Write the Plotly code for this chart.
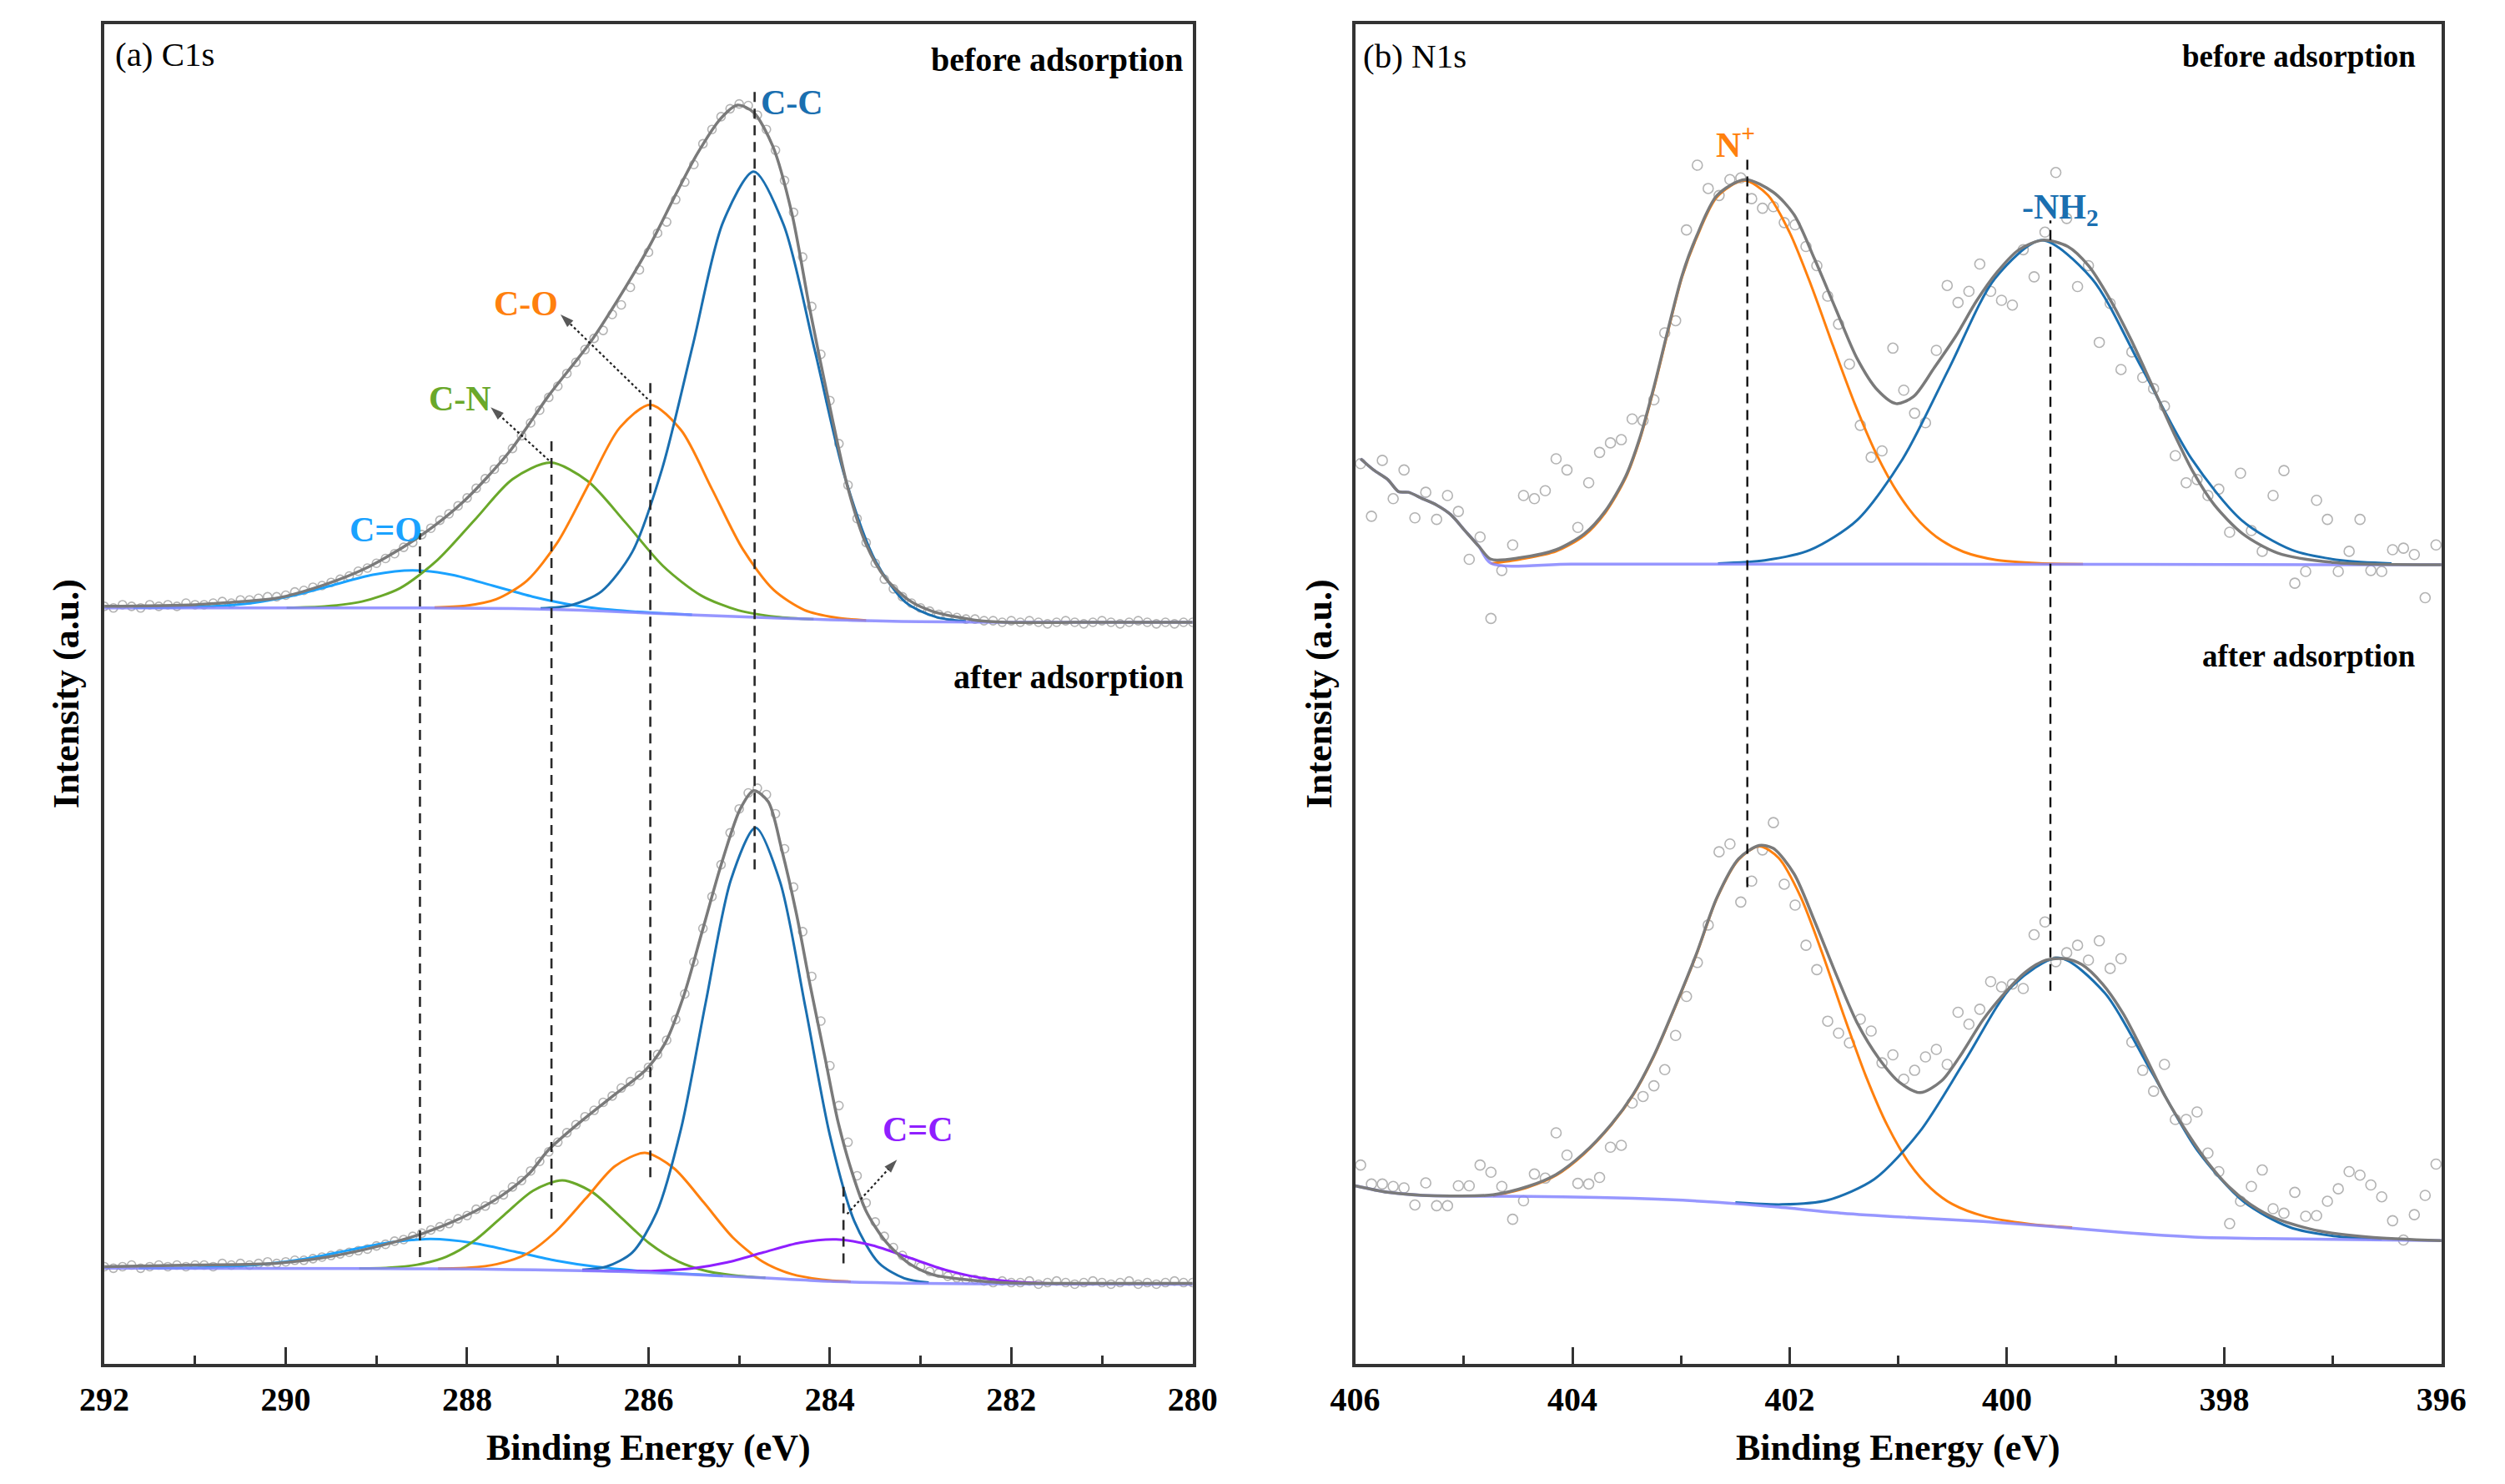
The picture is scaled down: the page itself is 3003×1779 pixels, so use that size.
import plotly.graph_objects as go

# ---------------- (a) C1s ----------------
# binding-energy grid of the measured C1s points (0.1 eV step, 292 -> 280 eV)
c1s_be = [round(292.0 - 0.1 * i, 1) for i in range(121)]

c1s_before_counts = [
    475, 474, 476, 475, 474, 476, 475, 476, 475, 477, 476,
    476, 477, 478, 477, 479, 479, 480, 481, 481, 482,
    484, 485, 487, 488, 490, 492, 494, 497, 499, 502,
    505, 508, 512, 515, 520, 524, 529, 533, 538, 543,
    549, 555, 561, 567, 574, 582, 590, 598, 606, 613,
    621, 628, 636, 643, 648, 658, 664, 675, 686, 697,
    709, 716, 730, 741, 752, 765, 774, 782, 787, 790,
    789, 783, 774, 761, 742, 722, 694, 663, 633, 604,
    577, 551, 530, 515, 502, 492, 486, 481, 477, 474,
    472, 470, 469, 468, 467, 467, 466, 466, 465, 466,
    465, 466, 465, 464, 465, 466, 465, 464, 465, 466,
    465, 464, 465, 466, 465, 464, 465, 464, 465, 465,
]
c1s_after_counts = [
    61, 60, 61, 62, 60, 61, 62, 61, 62, 61, 62,
    62, 61, 63, 62, 63, 62, 63, 64, 63, 64,
    65, 65, 66, 67, 68, 69, 70, 71, 72, 74,
    75, 77, 78, 80, 82, 84, 86, 88, 91, 93,
    97, 99, 103, 106, 111, 115, 121, 127, 133, 139,
    145, 150, 155, 159, 164, 168, 173, 177, 181, 186,
    194, 203, 216, 232, 252, 273, 293, 313, 333, 348,
    358, 361, 357, 345, 323, 299, 271, 243, 215, 187,
    162, 139, 118, 101, 89, 80, 73, 68, 64, 61,
    58, 57, 55, 54, 53, 53, 52, 51, 52, 51,
    51, 52, 50, 51, 52, 51, 50, 51, 52, 51,
    50, 51, 52, 50, 51, 50, 51, 52, 51, 51,
]

# fitted envelopes
c1s_before_env_be = [292.0, 291.0, 290.5, 290.11, 289.59, 289.08, 288.53, 288.04, 287.53, 287.10,
                     286.65, 286.23, 285.97, 285.72, 285.46, 285.20, 285.02, 284.84, 284.63, 284.42,
                     284.22, 284.01, 283.80, 283.60, 283.39, 283.13, 282.87, 282.36, 282.05, 281.0, 280.0]
c1s_before_env = [475, 476, 478, 480, 488.2, 499.9, 518.6, 540.7, 572.2, 607.2,
                  639.9, 677.3, 702.9, 731.0, 759.0, 781.1, 789.3, 784.6, 763.6, 721.6,
                  660.9, 602.6, 548.9, 513.9, 492.9, 478.9, 471.9, 466.0, 465.0, 465.0, 465.0]
c1s_after_env_be = [292.0, 291.0, 290.11, 289.59, 289.08, 288.53, 288.04, 287.63, 287.32, 287.10,
                    286.75, 286.39, 286.03, 285.82, 285.61, 285.41, 285.20, 284.99, 284.84, 284.68,
                    284.53, 284.37, 284.22, 284.06, 283.91, 283.75, 283.60, 283.39, 283.13, 282.87,
                    282.46, 282.05, 281.0, 280.0]
c1s_after_env = [61, 62, 63.1, 66.6, 72.4, 81.0, 92.2, 105.1, 119.1, 134.3,
                 151.8, 168.1, 184.4, 200.8, 231.1, 270.8, 312.8, 347.8, 359.5, 352.5,
                 322.2, 282.5, 238.1, 193.8, 151.8, 119.1, 95.8, 77.1, 63.1, 56.1,
                 52.6, 50.9, 50.5, 50.5]

# backgrounds
c1s_before_bg_be = [292.0, 288.5, 287.5, 287.0, 286.5, 286.0, 285.5, 285.0, 284.5, 284.0, 283.5, 283.0, 282.0, 280.0]
c1s_before_bg = [474, 474, 473.6, 473.0, 472.0, 470.8, 469.6, 468.5, 467.5, 466.6, 465.9, 465.4, 465.0, 465.0]
c1s_after_bg_be = [292.0, 289.0, 288.0, 287.5, 287.0, 286.5, 286.0, 285.5, 285.0, 284.5, 284.0, 283.5, 283.0, 282.0, 280.0]
c1s_after_bg = [60.0, 59.8, 59.5, 59.2, 58.8, 58.2, 57.3, 56.0, 54.7, 53.3, 51.8, 51.0, 50.5, 50.2, 50.0]

# fitted components, before adsorption
c1s_b_cdo_be = [291.68, 291.24, 290.80, 290.36, 289.92, 289.48, 289.04, 288.60, 288.16, 287.72, 287.28, 286.84, 286.40, 285.96, 285.52]
c1s_b_cdo = [474.1, 474.3, 475.0, 477.2, 481.7, 488.3, 494.8, 497.6, 494.7, 488.0, 481.1, 475.9, 472.8, 471.0, 469.7]
c1s_b_cn_be = [289.99, 289.57, 289.16, 288.74, 288.33, 287.91, 287.50, 287.08, 286.67, 286.25, 285.84, 285.42, 285.01, 284.59, 284.18]
c1s_b_cn = [474.2, 475.0, 478.0, 486.4, 503.9, 529.6, 554.7, 565.1, 553.5, 527.3, 500.3, 481.8, 472.5, 468.4, 466.9]
c1s_b_co_be = [288.36, 288.02, 287.68, 287.34, 287.00, 286.66, 286.32, 285.98, 285.64, 285.30, 284.96, 284.62, 284.28, 283.94, 283.60]
c1s_b_co = [474.3, 475.3, 479.4, 491.1, 515.4, 551.4, 586.8, 601.4, 585.4, 548.5, 510.8, 485.3, 472.7, 468.0, 466.2]
c1s_b_cc_be = [287.19, 286.85, 286.52, 286.18, 285.85, 285.51, 285.18, 284.84, 284.51, 284.17, 283.84, 283.50, 283.17, 282.83, 282.50]
c1s_b_cc = [473.8, 475.8, 484.3, 509.0, 561.2, 639.1, 715.6, 747.6, 714.2, 636.3, 557.1, 503.7, 477.8, 468.3, 465.6]

# fitted components, after adsorption
c1s_a_cdo_be = [291.62, 291.16, 290.70, 290.24, 289.78, 289.32, 288.86, 288.40, 287.94, 287.48, 287.02, 286.56, 286.10, 285.64, 285.18]
c1s_a_cdo = [60.0, 60.2, 60.8, 62.5, 65.9, 71.1, 76.2, 78.3, 75.9, 70.5, 64.8, 60.8, 58.3, 56.6, 55.2]
c1s_a_cn_be = [289.19, 288.87, 288.55, 288.23, 287.91, 287.59, 287.27, 286.95, 286.63, 286.31, 285.99, 285.67, 285.35, 285.03, 284.71]
c1s_a_cn = [59.9, 60.3, 62.2, 67.2, 77.7, 93.5, 108.7, 115.1, 108.1, 92.2, 75.6, 64.2, 58.1, 55.4, 54.0]
c1s_a_co_be = [288.32, 287.99, 287.67, 287.34, 287.02, 286.69, 286.37, 286.04, 285.72, 285.39, 285.07, 284.74, 284.42, 284.09, 283.77]
c1s_a_co = [59.8, 60.3, 62.6, 69.1, 83.2, 103.8, 124.0, 132.3, 122.7, 101.2, 79.3, 64.1, 56.3, 52.9, 51.6]
c1s_a_cc_be = [286.73, 286.46, 286.18, 285.91, 285.64, 285.37, 285.09, 284.82, 284.55, 284.27, 284.00, 283.73, 283.46, 283.18, 282.91]
c1s_a_cc = [59.0, 61.1, 69.8, 95.0, 147.7, 226.4, 303.8, 336.2, 302.4, 223.6, 143.4, 89.4, 63.3, 53.7, 51.0]
c1s_a_cdc_be = [286.73, 286.33, 285.93, 285.53, 285.13, 284.73, 284.33, 283.93, 283.53, 283.13, 282.73, 282.33, 281.93, 281.53, 281.13]
c1s_a_cdc = [58.6, 58.2, 58.4, 59.8, 63.7, 70.0, 76.0, 78.1, 74.3, 66.7, 59.0, 53.9, 51.4, 50.4, 50.1]

# peak-position guide lines (eV, bottom, top)
c1s_guide_be = [288.52, 287.07, 285.98, 284.83, 283.85]
c1s_guide_bottom = [67, 91, 117, 310, 63]
c1s_guide_top = [521, 579, 615, 800, 111]

# ---------------- (b) N1s ----------------
n1s_be = [round(405.95 - 0.1 * i, 2) for i in range(100)]

n1s_before_counts = [
    564.5, 531.5, 566.5, 542.5, 560.5, 530.5, 546.5, 529.5, 544.5, 534.5,
    504.5, 518.5, 467.4, 497.5, 513.5, 544.5, 542.5, 547.5, 567.5, 560.5,
    524.5, 552.5, 571.5, 577.5, 579.5, 592.5, 591.5, 604.5, 646.5, 654.1,
    711.0, 751.6, 737.0, 732.6, 742.6, 743.6, 730.6, 724.6, 725.6, 715.6,
    714.2, 700.6, 688.6, 669.5, 651.9, 626.9, 588.5, 568.5, 572.5, 636.9,
    610.5, 596.1, 590.1, 635.5, 676.2, 665.5, 672.5, 689.6, 672.5, 666.9,
    663.9, 698.6, 681.6, 709.6, 747.0, 718.2, 675.5, 688.6, 640.5, 664.9,
    623.5, 634.5, 618.5, 611.5, 600.5, 569.5, 552.5, 554.5, 544.5, 548.5,
    521.5, 558.5, 522.5, 509.5, 544.5, 560.1, 489.5, 496.9, 541.5, 529.5,
    496.9, 509.5, 529.5, 497.5, 496.9, 510.5, 511.5, 507.5, 480.4, 513.5,
]
n1s_after_counts = [
    124.7, 112.8, 112.8, 111.3, 110.4, 99.7, 113.5, 99.2, 99.2, 111.7,
    111.7, 124.7, 120.2, 111.3, 90.7, 102.3, 119.1, 116.5, 144.9, 130.9,
    113.2, 112.8, 116.9, 135.9, 137.1, 163.6, 167.7, 174.4, 184.5, 206.0,
    230.4, 251.7, 275.2, 321.1, 326.0, 289.6, 302.7, 322.3, 339.4, 300.8,
    287.7, 262.5, 247.2, 214.9, 207.4, 201.3, 216.2, 208.7, 188.8, 193.8,
    178.5, 184.1, 192.5, 197.2, 187.8, 220.5, 213.0, 222.4, 239.7, 236.4,
    238.2, 235.4, 269.1, 277.1, 252.2, 257.8, 262.5, 253.2, 265.3, 248.0,
    254.1, 201.8, 184.1, 171.0, 187.8, 153.3, 153.3, 158.0, 132.2, 120.6,
    88.0, 102.0, 111.3, 121.6, 97.3, 94.5, 107.6, 92.6, 93.0, 102.0,
    109.8, 120.6, 118.4, 112.2, 104.8, 89.8, 77.7, 93.6, 105.7, 125.3,
]

n1s_before_env_be = [405.95, 405.83, 405.70, 405.60, 405.51, 405.38, 405.25, 405.12, 404.99, 404.86,
                     404.75, 404.48, 404.15, 403.89, 403.70, 403.51, 403.38, 403.25, 403.12, 402.99,
                     402.86, 402.67, 402.41, 402.15, 401.96, 401.77, 401.57, 401.38, 401.19, 401.02,
                     400.86, 400.67, 400.47, 400.28, 400.09, 399.89, 399.67, 399.44, 399.25, 399.06,
                     398.86, 398.67, 398.47, 398.28, 398.09, 397.83, 397.51, 396.99, 396.0]
n1s_before_env = [567.5, 560.5, 554.5, 546.9, 546.5, 542.5, 538.5, 532.5, 522.5, 512.5,
                  504.5, 505.5, 510.5, 520.5, 534.5, 556.5, 580.5, 612.5, 648.5, 682.6,
                  706.6, 732.6, 742.6, 734.6, 720.6, 692.6, 660.5, 630.5, 610.5, 602.1,
                  606.5, 624.5, 644.5, 666.5, 684.6, 698.6, 704.6, 700.6, 688.6, 668.5,
                  642.5, 614.5, 584.5, 558.5, 538.5, 520.5, 508.5, 502.5, 501.1]
n1s_after_env_be = [406.0, 405.70, 405.38, 405.06, 404.73, 404.41, 404.15, 403.90, 403.64, 403.44,
                    403.25, 403.06, 402.86, 402.67, 402.47, 402.28, 402.15, 401.96, 401.77, 401.57,
                    401.38, 401.18, 400.99, 400.80, 400.60, 400.41, 400.22, 400.02, 399.83, 399.64,
                    399.47, 399.31, 399.12, 398.93, 398.73, 398.54, 398.34, 398.15, 397.96, 397.76,
                    397.51, 397.12, 396.67, 396.0]
n1s_after_env = [111.7, 107.6, 105.7, 105.3, 106.1, 111.3, 118.8, 131.8, 150.5, 169.2,
                 193.4, 223.3, 256.9, 292.4, 316.7, 325.1, 323.2, 307.3, 277.5, 243.8,
                 214.0, 191.6, 176.6, 170.1, 177.6, 195.3, 215.8, 232.6, 245.7, 253.2,
                 254.1, 250.4, 238.2, 219.6, 193.4, 167.3, 144.9, 126.2, 111.3, 100.1,
                 90.8, 83.3, 79.6, 77.3]

n1s_before_bg_be = [405.95, 405.83, 405.70, 405.60, 405.51, 405.38, 405.25, 405.12, 404.99, 404.86, 404.75, 404.0, 402.0, 400.0, 398.0, 396.0]
n1s_before_bg = [567.5, 560.5, 554.5, 546.9, 546.5, 542.5, 538.5, 532.5, 522.5, 512.5, 502.0, 501.5, 501.5, 501.4, 501.2, 501.1]
n1s_after_bg_be = [406.0, 405.70, 405.38, 405.06, 404.73, 404.09, 403.44, 402.80, 402.15, 401.51, 400.86, 400.22, 399.57, 398.93, 398.28, 397.64, 396.99, 396.0]
n1s_after_bg = [111.7, 107.6, 105.7, 105.3, 105.1, 104.8, 103.8, 101.9, 98.6, 94.5, 91.7, 89.3, 86.1, 82.4, 79.6, 78.6, 78.1, 77.3]

n1s_b_nplus_be = [404.75, 404.48, 404.15, 403.89, 403.70, 403.51, 403.38, 403.25, 403.12, 402.99, 402.86, 402.67, 402.42,
                  402.20, 402.00, 401.80, 401.60, 401.40, 401.20, 401.00, 400.80, 400.60, 400.40, 400.10, 399.70, 399.30]
n1s_b_nplus = [501.8, 504.5, 509.5, 519.5, 533.5, 555.5, 579.5, 611.5, 647.5, 681.6, 705.6, 731.6, 742.0,
               732.8, 709.3, 675.8, 638.2, 601.8, 570.2, 545.6, 527.8, 516.2, 509.2, 504.1, 502.0, 501.5]
n1s_b_nh2_be = [402.66, 402.23, 401.81, 401.38, 400.96, 400.53, 400.11, 399.68, 399.22, 398.76, 398.30, 397.84, 397.38, 396.92, 396.46]
n1s_b_nh2 = [501.9, 503.8, 510.4, 529.0, 567.4, 624.6, 680.6, 704.5, 680.6, 624.6, 567.4, 529.0, 510.4, 503.8, 501.9]

n1s_a_nplus_be = [404.73, 404.41, 404.15, 403.90, 403.64, 403.44, 403.25, 403.06, 402.86, 402.67, 402.47, 402.28,
                  402.10, 401.90, 401.70, 401.50, 401.30, 401.10, 400.90, 400.70, 400.50, 400.20, 399.80, 399.40]
n1s_a_nplus = [105.3, 110.8, 118.3, 131.3, 150.0, 168.7, 192.9, 222.8, 256.4, 291.9, 316.2, 324.6,
               317.1, 293.0, 257.5, 218.1, 180.7, 149.4, 125.9, 110.1, 100.1, 92.4, 87.8, 85.5]
n1s_a_nh2_be = [402.50, 402.07, 401.65, 401.22, 400.80, 400.37, 399.95, 399.52, 399.10, 398.67, 398.25, 397.82, 397.40, 396.97, 396.55]
n1s_a_nh2 = [101.2, 100.0, 102.7, 115.9, 145.9, 192.0, 237.0, 254.6, 232.6, 183.2, 134.1, 101.7, 85.8, 80.0, 78.3]

n1s_guide_be = [402.39, 399.60]
n1s_guide_bottom = [299, 234]
n1s_guide_top = [757, 717]

# ---------------- styling ----------------
SERIF = "Liberation Serif"
GREY_FIT = "#7a7a7a"
BG_COL = "#8585ff"
BLUE = "#1a6fb0"
ORANGE = "#ff800e"
GREEN = "#6aa82a"
SKY = "#1aa2ff"
PURPLE = "#8f1fff"
DOTS = "#b3b3b3"

fig = go.Figure()


def points(x, y, ax, size):
    fig.add_trace(go.Scatter(x=x, y=y, mode="markers", xaxis=ax[0], yaxis=ax[1],
                             marker=dict(symbol="circle-open", size=size, color=DOTS, line=dict(width=1.6)),
                             hoverinfo="skip", showlegend=False))


def curve(x, y, color, ax, width=3, opacity=1.0):
    fig.add_trace(go.Scatter(x=x, y=y, mode="lines", xaxis=ax[0], yaxis=ax[1], opacity=opacity,
                             line=dict(color=color, width=width, shape="spline", smoothing=0.8),
                             hoverinfo="skip", showlegend=False))


A = ("x", "y")
B = ("x2", "y2")

# panel (a)
points(c1s_be, c1s_before_counts, A, 10)
points(c1s_be, c1s_after_counts, A, 10)
for xs, ys, col in [(c1s_b_cdo_be, c1s_b_cdo, SKY), (c1s_b_cn_be, c1s_b_cn, GREEN),
                    (c1s_b_co_be, c1s_b_co, ORANGE), (c1s_b_cc_be, c1s_b_cc, BLUE),
                    (c1s_a_cdo_be, c1s_a_cdo, SKY), (c1s_a_cn_be, c1s_a_cn, GREEN),
                    (c1s_a_co_be, c1s_a_co, ORANGE), (c1s_a_cc_be, c1s_a_cc, BLUE),
                    (c1s_a_cdc_be, c1s_a_cdc, PURPLE)]:
    curve(xs, ys, col, A)
curve(c1s_before_bg_be, c1s_before_bg, BG_COL, A, width=3.5, opacity=0.85)
curve(c1s_after_bg_be, c1s_after_bg, BG_COL, A, width=3.5, opacity=0.85)
curve(c1s_before_env_be, c1s_before_env, GREY_FIT, A, width=3.5)
curve(c1s_after_env_be, c1s_after_env, GREY_FIT, A, width=3.5)

# panel (b)
points(n1s_be, n1s_before_counts, B, 12)
points(n1s_be, n1s_after_counts, B, 12)
for xs, ys, col in [(n1s_b_nplus_be, n1s_b_nplus, ORANGE), (n1s_b_nh2_be, n1s_b_nh2, BLUE),
                    (n1s_a_nplus_be, n1s_a_nplus, ORANGE), (n1s_a_nh2_be, n1s_a_nh2, BLUE)]:
    curve(xs, ys, col, B)
curve(n1s_before_bg_be, n1s_before_bg, BG_COL, B, width=3.5, opacity=0.85)
curve(n1s_after_bg_be, n1s_after_bg, BG_COL, B, width=3.5, opacity=0.85)
curve(n1s_before_env_be, n1s_before_env, GREY_FIT, B, width=3.5)
curve(n1s_after_env_be, n1s_after_env, GREY_FIT, B, width=3.5)

# dotted arrows from the peak tops to the labels (tail eV, tail y, head eV, head y)
for (x0, y0, x1, y1) in [(287.10, 566.6, 287.74, 599.8), (286.01, 605.0, 286.97, 658.0),
                         (283.81, 94.0, 283.26, 128.0)]:
    fig.add_trace(go.Scatter(x=[x0, x1], y=[y0, y1], mode="lines+markers", xaxis="x", yaxis="y",
                             line=dict(color="#222222", width=2.2, dash="dot"),
                             marker=dict(symbol=["circle", "arrow"], size=[0, 17], angleref="previous",
                                         color="#111111", line=dict(width=0)),
                             hoverinfo="skip", showlegend=False))

# dashed guide lines
shapes = []
for be, lo, hi in zip(c1s_guide_be, c1s_guide_bottom, c1s_guide_top):
    shapes.append(dict(type="line", xref="x", yref="y", x0=be, x1=be, y0=lo, y1=hi,
                       line=dict(color="#2a2a2a", width=2.6, dash="12px,8px")))
for be, lo, hi in zip(n1s_guide_be, n1s_guide_bottom, n1s_guide_top):
    shapes.append(dict(type="line", xref="x2", yref="y2", x0=be, x1=be, y0=lo, y1=hi,
                       line=dict(color="#111111", width=2.4, dash="12px,8px")))

annotations = []


def label(text, x, y, ax, size, color="black", bold=True, xanchor="center"):
    annotations.append(dict(text=text, x=x, y=y, xref=ax[0], yref=ax[1], showarrow=False,
                            xanchor=xanchor, yanchor="middle",
                            font=dict(family=SERIF, size=size, color=color,
                                      weight="bold" if bold else "normal")))


label("(a) C1s", 291.9, 821, A, 41, bold=False, xanchor="left")
label("before adsorption", 280.08, 818, A, 40, xanchor="right")
label("after adsorption", 280.08, 431, A, 40, xanchor="right")
label("C-C", 284.78, 791, A, 42, color=BLUE, xanchor="left")
label("C-O", 287.35, 665, A, 42, color=ORANGE)
label("C-N", 288.08, 605, A, 42, color=GREEN)
label("C=O", 288.90, 523, A, 42, color=SKY)
label("C=C", 283.03, 147, A, 42, color=PURPLE)

label("(b) N1s", 405.94, 820, B, 41, bold=False, xanchor="left")
label("before adsorption", 396.22, 820, B, 37, xanchor="right")
label("after adsorption", 396.22, 444, B, 37, xanchor="right")
label("N<sup>+</sup>", 402.50, 766, B, 42, color=ORANGE)
label("-NH<sub>2</sub>", 399.51, 724, B, 42, color=BLUE)

# axis titles
for xp in (0.2513, 0.7604):
    annotations.append(dict(text="Binding Energy (eV)", x=xp, y=0.029, xref="paper", yref="paper",
                            showarrow=False, xanchor="center", yanchor="middle",
                            font=dict(family=SERIF, size=44, color="black", weight="bold")))
for xp in (0.0141, 0.5245):
    annotations.append(dict(text="Intensity (a.u.)", x=xp, y=0.537, xref="paper", yref="paper",
                            showarrow=False, xanchor="center", yanchor="middle", textangle=-90,
                            font=dict(family=SERIF, size=44, color="black", weight="bold")))

frame = dict(showline=True, linewidth=4, linecolor="#333333", mirror=True,
             showgrid=False, zeroline=False)
xtick = dict(dtick=2, ticks="inside", ticklen=20, tickwidth=3, tickcolor="#333333",
             ticklabelstandoff=4,
             tickfont=dict(family=SERIF, size=40, color="black", weight="bold"))
ytick = dict(range=[0, 840], showticklabels=False, ticks="")

fig.update_layout(
    width=3003, height=1779,
    margin=dict(l=0, r=0, t=0, b=0),
    paper_bgcolor="white", plot_bgcolor="white",
    showlegend=False,
    xaxis=dict(domain=[0.0296, 0.4729], range=[292, 280], anchor="y", tick0=280,
               minor=dict(ticks="inside", dtick=1, tick0=280, ticklen=10, tickwidth=3, tickcolor="#333333"),
               **xtick, **frame),
    yaxis=dict(domain=[0.0854, 0.9882], anchor="x", **ytick, **frame),
    xaxis2=dict(domain=[0.5391, 0.9816], range=[406, 396], anchor="y2", tick0=396,
                minor=dict(ticks="inside", dtick=1, tick0=396, ticklen=10, tickwidth=3, tickcolor="#333333"),
                **xtick, **frame),
    yaxis2=dict(domain=[0.0854, 0.9882], anchor="x2", **ytick, **frame),
    shapes=shapes,
    annotations=annotations,
)

fig.write_html("out.html")
